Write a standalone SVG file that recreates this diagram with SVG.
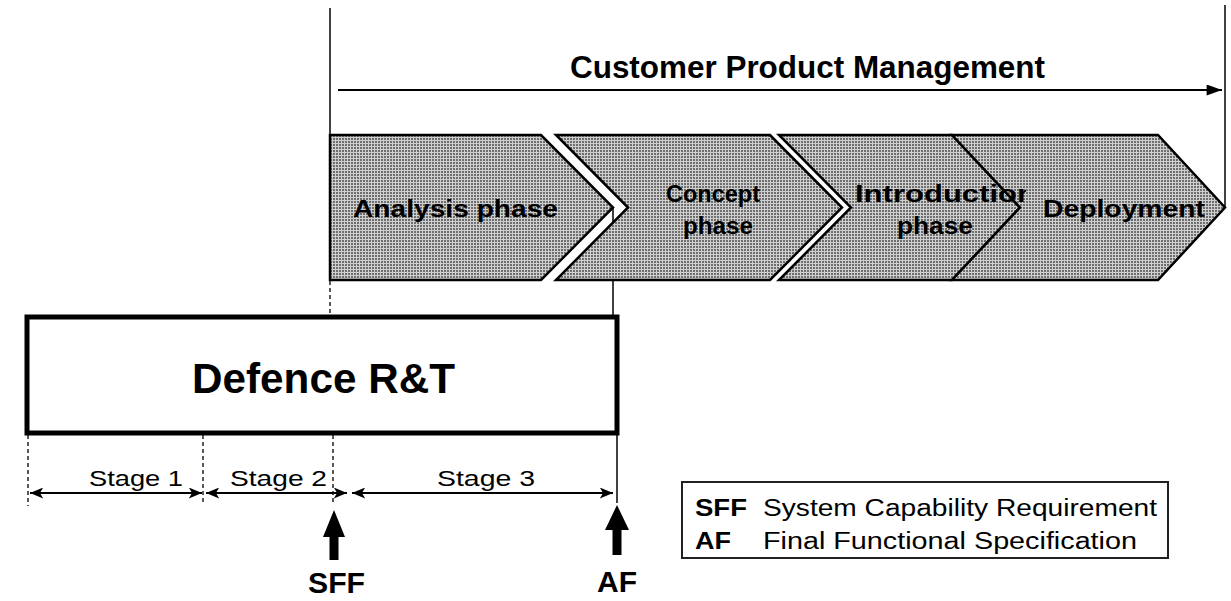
<svg xmlns="http://www.w3.org/2000/svg" width="1231" height="601" viewBox="0 0 1231 601">
<style>
.b{font-family:"Liberation Sans",Arial,sans-serif;font-weight:bold;fill:#000}
.r{font-family:"Liberation Sans",Arial,sans-serif;fill:#000}
.chev{fill:url(#dots);stroke:#000;stroke-width:2.5;stroke-linejoin:miter}
.thin{stroke:#111;stroke-width:1.6;fill:none}
.dash{stroke:#222;stroke-width:1.5;fill:none;stroke-dasharray:4 3}
.stage{stroke:#000;stroke-width:2;fill:none;marker-start:url(#ah);marker-end:url(#ah)}
</style>
<defs>
<pattern id="dots" width="3" height="3" patternUnits="userSpaceOnUse">
<rect width="3" height="3" fill="#cfcfcf"/>
<rect width="2" height="2" fill="#6e6e6e"/>
</pattern>
<marker id="ah" viewBox="0 0 12 10" refX="12" refY="5" markerWidth="14" markerHeight="11" markerUnits="userSpaceOnUse" orient="auto-start-reverse">
<path d="M0,0 L12,5 L0,10 L3,5 Z" fill="#000"/>
</marker>
<marker id="ah2" viewBox="0 0 14 10" refX="14" refY="5" markerWidth="16" markerHeight="11" markerUnits="userSpaceOnUse" orient="auto">
<path d="M0,0 L14,5 L0,10 Z" fill="#000"/>
</marker>
<clipPath id="introClip"><rect x="800" y="170" width="226" height="40"/></clipPath>
</defs>

<g id="connectors">
<line class="thin" x1="330" y1="8" x2="330" y2="135"/>
<line class="dash" x1="330" y1="281" x2="330" y2="317"/>
<line class="thin" x1="1225" y1="5" x2="1225" y2="207"/>
<line class="thin" x1="613" y1="207" x2="613" y2="317"/>
<line x1="338" y1="90" x2="1222" y2="90" stroke="#000" stroke-width="2" marker-end="url(#ah2)"/>
<line class="dash" x1="28" y1="435" x2="28" y2="506"/>
<line class="dash" x1="203" y1="435" x2="203" y2="502"/>
<line class="dash" x1="333" y1="435" x2="333" y2="502"/>
<line class="thin" x1="617" y1="435" x2="617" y2="503"/>
<line class="stage" x1="30" y1="493" x2="202" y2="493"/>
<line class="stage" x1="206" y1="493" x2="347" y2="493"/>
<line class="stage" x1="352" y1="493" x2="613" y2="493"/>
<polygon points="334,510 345,537 338.5,537 338.5,560 329.5,560 329.5,537 323,537" fill="#000"/>
<polygon points="617,505 629,530 621.5,530 621.5,555 612.5,555 612.5,530 605,530" fill="#000"/>
</g>

<g id="cpm-label">
<text class="b" x="570" y="78" font-size="31" textLength="475" lengthAdjust="spacingAndGlyphs">Customer Product Management</text>
</g>

<g id="analysis">
<polygon class="chev" points="330,135 541,135 613,207.5 541,280 330,280"/>
<text class="b" x="353" y="217" font-size="24" textLength="205" lengthAdjust="spacingAndGlyphs">Analysis phase</text>
</g>

<g id="concept">
<polygon class="chev" points="556,135 770,135 842,207.5 770,280 556,280 628,207.5"/>
<text class="b" x="666" y="202" font-size="24" textLength="94" lengthAdjust="spacingAndGlyphs">Concept</text>
<text class="b" x="683" y="234" font-size="24" textLength="70" lengthAdjust="spacingAndGlyphs">phase</text>
</g>

<g id="introduction">
<polygon class="chev" points="779,135 952,135 1020,207.5 952,280 779,280 851,207.5"/>
<text class="b" x="897" y="234" font-size="24" textLength="76" lengthAdjust="spacingAndGlyphs">phase</text>
</g>

<g id="deployment">
<polygon class="chev" points="952,135 1158,135 1225,207.5 1158,280 952,280 1020,207.5"/>
<text class="b" x="1043" y="217" font-size="24" textLength="162" lengthAdjust="spacingAndGlyphs">Deployment</text>
</g>

<g id="introduction-title" clip-path="url(#introClip)">
<text class="b" x="855" y="202" font-size="24" textLength="181" lengthAdjust="spacingAndGlyphs">Introduction</text>
</g>

<g id="defence">
<rect x="27" y="317" width="590" height="116" fill="#fff" stroke="#000" stroke-width="5"/>
<text class="b" x="192" y="393" font-size="42" textLength="263" lengthAdjust="spacingAndGlyphs">Defence R&amp;T</text>
</g>

<g id="stages">
<text class="r" x="89" y="486" font-size="22" textLength="94" lengthAdjust="spacingAndGlyphs">Stage 1</text>
<text class="r" x="230" y="486" font-size="22" textLength="97" lengthAdjust="spacingAndGlyphs">Stage 2</text>
<text class="r" x="437" y="486" font-size="22" textLength="98" lengthAdjust="spacingAndGlyphs">Stage 3</text>
</g>

<g id="sff">
<text class="b" x="308" y="593" font-size="30" textLength="57" lengthAdjust="spacingAndGlyphs">SFF</text>
</g>
<g id="af">
<text class="b" x="597" y="592" font-size="30" textLength="40" lengthAdjust="spacingAndGlyphs">AF</text>
</g>

<g id="legend">
<rect x="682" y="482" width="486" height="76" fill="#fff" stroke="#222" stroke-width="2"/>
<text class="b" x="695" y="516" font-size="23" textLength="52" lengthAdjust="spacingAndGlyphs">SFF</text>
<text class="r" x="763" y="516" font-size="23" textLength="394" lengthAdjust="spacingAndGlyphs">System Capability Requirement</text>
<text class="b" x="695" y="549" font-size="23" textLength="36" lengthAdjust="spacingAndGlyphs">AF</text>
<text class="r" x="763" y="549" font-size="23" textLength="374" lengthAdjust="spacingAndGlyphs">Final Functional Specification</text>
</g>
</svg>
